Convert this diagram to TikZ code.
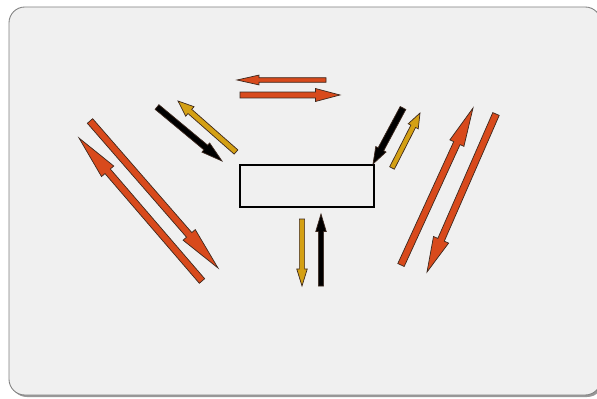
\documentclass[tikz,border=0pt]{standalone}
\usepackage{tikz}
\usetikzlibrary{calc}
\definecolor{panelbg}{RGB}{240, 240, 240}
\definecolor{arrowred}{RGB}{216, 74, 28}
\definecolor{arrowgold}{RGB}{212, 160, 20}
\definecolor{outline}{RGB}{60, 40, 30}

% block arrow: colour, tail, head, half shaft, half head, head length
\newcommand{\blockarr}[6]{%
  \coordinate (tl) at (#2);
  \coordinate (hd) at (#3);
  \coordinate (nk) at ($(hd)!#6!(tl)$);
  \filldraw[fill=#1, draw=outline, line width=0.4pt, line join=miter]
    ($(tl)!#4!90:(hd)$) -- ($(nk)!#4!90:(hd)$) -- ($(nk)!#5!90:(hd)$) -- (hd)
    -- ($(nk)!#5!-90:(hd)$) -- ($(nk)!#4!-90:(hd)$) -- ($(tl)!#4!-90:(hd)$) -- cycle;
}

\begin{document}
\begin{tikzpicture}[x=0.02cm, y=-0.02cm]
  \useasboundingbox (0,0) rectangle (597,398);
  % panel
  \fill[gray!80, rounded corners=9pt] (11,9) rectangle (603,397);
  \filldraw[fill=panelbg, draw=gray, line width=0.5pt, rounded corners=9pt] (9,7) rectangle (601,395);

  \node[draw=black, line width=1.1pt, minimum width=2.68cm, minimum height=0.84cm, inner sep=0pt] (box) at (307,186) {};

  % top pair
  \blockarr{arrowred}{326,80}{237,80}{1.3pt}{2.8pt}{12.5pt}
  \blockarr{arrowred}{240,95}{340,95}{1.7pt}{3.7pt}{14pt}

  % upper left
  \blockarr{black}{157,107}{222,161}{1.7pt}{3.4pt}{12pt}
  \blockarr{arrowgold}{236,152}{178,101}{1.6pt}{3.6pt}{9pt}

  % upper right
  \blockarr{black}{403,108}{373,164}{1.8pt}{3.3pt}{9.5pt}
  \blockarr{arrowgold}{392,168}{420,113}{1.5pt}{3.2pt}{8.5pt}

  % long pairs
  \blockarr{arrowred}{90,121}{218,268}{2pt}{4.6pt}{25pt}
  \blockarr{arrowred}{202,281}{79,138}{2pt}{4.6pt}{25pt}
  \blockarr{arrowred}{401,265}{473,108}{2pt}{4.4pt}{22pt}
  \blockarr{arrowred}{496,114}{427,272}{2pt}{4.7pt}{20pt}

  % below the box
  \blockarr{arrowgold}{302,219}{302,286}{1.5pt}{3pt}{9.7pt}
  \blockarr{black}{321,286}{321,214}{1.5pt}{3pt}{10pt}
\end{tikzpicture}
\end{document}
